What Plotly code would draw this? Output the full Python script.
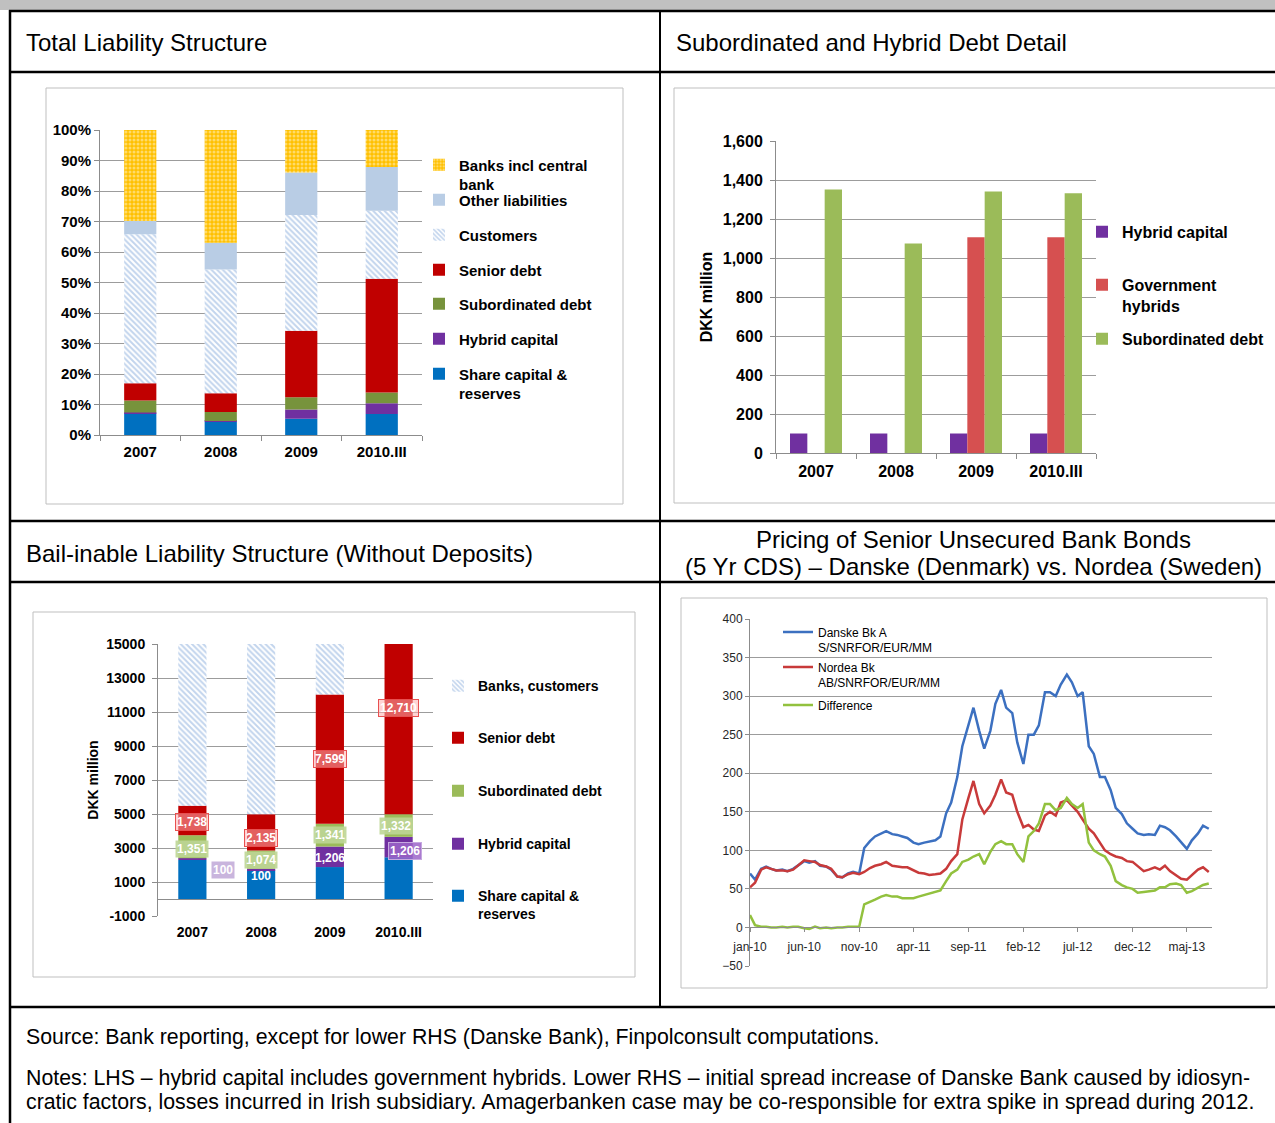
import plotly.graph_objects as go
import pandas as pd

W, H = 1275, 1123


def fx(p):
    return p / W


def fy(p):
    return 1 - p / H


FONT = "Liberation Sans"
GRID = "#9C9C9C"
AXIS = "#8C8C8C"

categories = ["2007", "2008", "2009", "2010.III"]

# ---------------- Chart 1: Total Liability Structure (% of total) ----------------
tl_share_capital = [7.1, 4.4, 5.3, 6.9]
tl_hybrid_capital = [0.3, 0.2, 3.1, 3.5]
tl_subordinated = [3.9, 2.9, 4.0, 3.5]
tl_senior = [5.7, 6.2, 21.8, 37.3]
tl_customers = [48.8, 40.6, 37.9, 22.3]
tl_other = [4.4, 8.7, 14.0, 14.4]
tl_banks = [29.8, 37.0, 13.9, 12.1]

# ---------------- Chart 2: Subordinated and Hybrid Debt Detail (DKK million) ----------------
sh_hybrid_capital = [100, 100, 100, 100]
sh_government_hybrids = [0, 0, 1106, 1106]
sh_subordinated = [1351, 1074, 1341, 1332]

# ---------------- Chart 3: Bail-inable Liability Structure (DKK million) ----------------
bl_share_capital = [2300, 1680, 1880, 2450]
bl_hybrid_capital = [100, 100, 1206, 1206]
bl_subordinated = [1351, 1074, 1341, 1332]
bl_senior = [1738, 2135, 7599, 12710]
bl_banks_customers = [25000, 25000, 25000, 25000]
bl_tickvals = [-1000, 1000, 3000, 5000, 7000, 9000, 11000, 13000, 15000]
bl_ticktext = ["-1000", "1000", "3000", "5000", "7000", "9000", "11000", "13000", "15000"]

# ---------------- Chart 4: 5Y CDS spreads (bp), semi-monthly readings ----------------
cds_dates = pd.date_range("2010-01-01", "2013-07-01", freq="SMS")
cds_danske = [70, 62, 76, 79, 76, 74, 75, 73, 76, 81,
              86, 84, 86, 80, 79, 75, 66, 65, 70, 72,
              70, 103, 112, 118, 122, 125, 121, 120, 118, 116,
              110, 108, 110, 111, 113, 118, 148, 162, 195, 235,
              262, 285, 255, 232, 255, 290, 308, 285, 278, 240,
              212, 250, 250, 262, 305, 305, 300, 315, 328, 318,
              300, 305, 235, 225, 195, 195, 178, 155, 147, 135,
              128, 122, 120, 121, 120, 132, 130, 126, 118, 110,
              102, 113, 122, 132, 128]
cds_nordea = [52, 58, 75, 78, 76, 74, 74, 73, 75, 80,
              87, 86, 85, 81, 79, 76, 66, 65, 69, 71,
              69, 72, 77, 80, 82, 85, 80, 79, 78, 78,
              74, 71, 70, 68, 69, 70, 76, 86, 95, 140,
              168, 190, 160, 148, 158, 172, 192, 175, 172, 150,
              130, 133, 127, 125, 145, 150, 145, 162, 165, 158,
              150, 140, 128, 122, 110, 100, 95, 92, 90, 86,
              85, 80, 73, 75, 78, 75, 80, 73, 68, 63,
              62, 68, 75, 78, 72]
cds_difference = [16, 3, 1, 1, 0, 0, 1, 0, 1, 1,
                  -1, -2, 1, -1, 0, -1, 0, 0, 1, 1,
                  1, 30, 33, 36, 40, 42, 40, 40, 38, 38,
                  38, 40, 42, 44, 46, 48, 60, 70, 75, 85,
                  88, 92, 95, 82, 98, 108, 112, 108, 108, 95,
                  85, 118, 125, 135, 160, 160, 152, 155, 168, 160,
                  155, 160, 110, 100, 95, 92, 80, 60, 55, 52,
                  50, 45, 46, 47, 48, 52, 52, 56, 57, 55,
                  45, 47, 52, 55, 57]
cds_tick_dates = ["2010-01-01", "2010-06-01", "2010-11-01", "2011-04-01", "2011-09-01",
                  "2012-02-01", "2012-07-01", "2012-12-01", "2013-05-01"]
cds_tick_labels = ["jan-10", "jun-10", "nov-10", "apr-11", "sep-11",
                   "feb-12", "jul-12", "dec-12", "maj-13"]

# ---------------- helpers ----------------
fig = go.Figure()
legend_layouts = {}
leg_count = [1]


def bold(size, color="black"):
    return dict(family=FONT, size=size, color=color, weight="bold")


def new_legend(tx, ty, size, weight="bold"):
    leg_count[0] += 1
    key = "legend%d" % leg_count[0]
    legend_layouts[key] = dict(
        x=fx(tx - 40), y=fy(ty - (8 + 0.7 * size)), xanchor="left", yanchor="top",
        bgcolor="rgba(0,0,0,0)", borderwidth=0, valign="top",
        font=dict(family=FONT, size=size, color="black", weight=weight),
        itemclick=False, itemdoubleclick=False)
    return key


def solid(c):
    return dict(color=c, line=dict(width=0))


def hatch(fg, bg="white", shape="\\", size=4, solidity=0.5):
    return dict(color=bg, line=dict(width=0),
                pattern=dict(shape=shape, fgcolor=fg, bgcolor=bg, size=size, solidity=solidity))


def add_stack(series, xa, ya, width, legpos, size):
    base = [0.0] * len(categories)
    for name, vals, marker in series:
        key = new_legend(legpos[name][0], legpos[name][1], size)
        fig.add_trace(go.Bar(x=categories, y=vals, base=list(base), width=width, offset=-width / 2,
                             name=name, marker=marker, xaxis=xa, yaxis=ya, legend=key,
                             hoverinfo="skip"))
        base = [b + v for b, v in zip(base, vals)]


# ---------------- Chart 1 ----------------
c1_leg = {
    "Banks incl central<br>bank": (459, 167),
    "Other liabilities": (459, 202),
    "Customers": (459, 237),
    "Senior debt": (459, 272),
    "Subordinated debt": (459, 306),
    "Hybrid capital": (459, 341),
    "Share capital &<br>reserves": (459, 376),
}
add_stack([
    ("Share capital &<br>reserves", tl_share_capital, solid("#0070C0")),
    ("Hybrid capital", tl_hybrid_capital, solid("#7030A0")),
    ("Subordinated debt", tl_subordinated, solid("#77933C")),
    ("Senior debt", tl_senior, solid("#C00000")),
    ("Customers", tl_customers, hatch("#85AADB")),
    ("Other liabilities", tl_other, solid("#B9CDE5")),
    ("Banks incl central<br>bank", tl_banks, hatch("#FFF5D6", "#FFC000", ".", 4, 0.45)),
], "x", "y", 0.4, c1_leg, 15)

# ---------------- Chart 2 ----------------
c2_series = [
    ("Hybrid capital", sh_hybrid_capital, "#7030A0", (1122, 234)),
    ("Government<br>hybrids", sh_government_hybrids, "#D65050", (1122, 287)),
    ("Subordinated debt", sh_subordinated, "#9BBB59", (1122, 341)),
]
for name, vals, col, pos in c2_series:
    key = new_legend(pos[0], pos[1], 16)
    fig.add_trace(go.Bar(x=categories, y=vals, name=name, marker=solid(col),
                         xaxis="x2", yaxis="y2", legend=key, hoverinfo="skip"))

# ---------------- Chart 3 ----------------
c3_leg = {
    "Banks, customers": (478, 688),
    "Senior debt": (478, 740),
    "Subordinated debt": (478, 793),
    "Hybrid capital": (478, 846),
    "Share capital &<br>reserves": (478, 898),
}
c3_series = [
    ("Share capital &<br>reserves", bl_share_capital, solid("#0070C0")),
    ("Hybrid capital", bl_hybrid_capital, solid("#7030A0")),
    ("Subordinated debt", bl_subordinated, solid("#9BBB59")),
    ("Senior debt", bl_senior, solid("#C00000")),
    ("Banks, customers", bl_banks_customers, hatch("#85AADB")),
]
add_stack(c3_series, "x3", "y3", 0.41, c3_leg, 14)

# data labels for chart 3 (value labels at segment centres)
label_styles = {
    "Hybrid capital": [
        dict(bgcolor="#C9B5DD", bordercolor="rgba(0,0,0,0)", xshift=31, yshift=-11),
        dict(bgcolor="rgba(0,0,0,0)", bordercolor="rgba(0,0,0,0)", xshift=0, yshift=-6),
        dict(bgcolor="rgba(0,0,0,0)", bordercolor="rgba(0,0,0,0)", xshift=0, yshift=-1),
        dict(bgcolor="rgba(155,100,200,0.85)", bordercolor="#C6A8E0", xshift=6, yshift=-4),
    ],
    "Subordinated debt": [
        dict(bgcolor="rgba(190,214,150,0.9)", bordercolor="rgba(0,0,0,0)", xshift=0, yshift=-2),
        dict(bgcolor="rgba(190,214,150,0.9)", bordercolor="rgba(0,0,0,0)", xshift=0, yshift=0),
        dict(bgcolor="rgba(190,214,150,0.9)", bordercolor="rgba(0,0,0,0)", xshift=0, yshift=0),
        dict(bgcolor="rgba(190,214,150,0.9)", bordercolor="rgba(0,0,0,0)", xshift=-3, yshift=0),
    ],
    "Senior debt": [
        dict(bgcolor="rgba(255,175,175,0.55)", bordercolor="#E85050", xshift=0, yshift=-2),
        dict(bgcolor="rgba(255,175,175,0.55)", bordercolor="#E85050", xshift=0, yshift=-6),
        dict(bgcolor="rgba(255,175,175,0.55)", bordercolor="#E85050", xshift=0, yshift=0),
        dict(bgcolor="rgba(255,175,175,0.55)", bordercolor="#E85050", xshift=0, yshift=-2),
    ],
}
annotations = []
base = [0.0] * len(categories)
for name, vals, _m in c3_series:
    if name in label_styles:
        for i in range(len(categories)):
            st = label_styles[name][i]
            annotations.append(dict(
                x=i, y=base[i] + vals[i] / 2, xref="x3", yref="y3",
                text="{:,}".format(vals[i]), showarrow=False,
                font=bold(12, "white"), bgcolor=st["bgcolor"], bordercolor=st["bordercolor"],
                borderwidth=1, borderpad=1, xshift=st["xshift"], yshift=st["yshift"]))
    base = [b + v for b, v in zip(base, vals)]

# ---------------- Chart 4 ----------------
c4_series = [
    ("Danske Bk A<br>S/SNRFOR/EUR/MM", cds_danske, "#3C70C0", (818, 634)),
    ("Nordea Bk<br>AB/SNRFOR/EUR/MM", cds_nordea, "#C83A3A", (818, 669)),
    ("Difference", cds_difference, "#92C13E", (818, 707)),
]
for name, vals, col, pos in c4_series:
    key = new_legend(pos[0], pos[1], 12, "normal")
    fig.add_trace(go.Scatter(x=cds_dates, y=vals, name=name, mode="lines",
                             line=dict(color=col, width=2.5), xaxis="x4", yaxis="y4",
                             legend=key, hoverinfo="skip"))

# ---------------- frame, headers and notes ----------------
shapes = [dict(type="rect", xref="paper", yref="paper", x0=0, x1=1, y0=fy(10), y1=1,
               fillcolor="#C0C0C0", line=dict(width=0), layer="below")]
for (x0, y0, x1, y1) in [(46, 88, 623, 504), (674, 88, 1290, 503), (33, 612, 635, 977), (681, 598, 1267, 988)]:
    shapes.append(dict(type="rect", xref="paper", yref="paper", x0=fx(x0), x1=fx(x1), y0=fy(y1), y1=fy(y0),
                       fillcolor="white", line=dict(color="#BFBFBF", width=1), layer="below"))
for yy in [11, 72, 521, 582, 1007]:
    shapes.append(dict(type="line", xref="paper", yref="paper", x0=fx(9), x1=1, y0=fy(yy), y1=fy(yy),
                       line=dict(color="black", width=2.5)))
shapes.append(dict(type="line", xref="paper", yref="paper", x0=fx(10), x1=fx(10), y0=0, y1=fy(10),
                   line=dict(color="black", width=2.5)))
shapes.append(dict(type="line", xref="paper", yref="paper", x0=fx(660), x1=fx(660), y0=fy(1007), y1=fy(10),
                   line=dict(color="black", width=2)))


def text(s, x, y, size, anchor="left"):
    annotations.append(dict(text=s, x=fx(x), y=fy(y), xref="paper", yref="paper", xanchor=anchor,
                            yanchor="middle", showarrow=False,
                            font=dict(family=FONT, size=size, color="black")))


text("Total Liability Structure", 24, 42, 24)
text("Subordinated and Hybrid Debt Detail", 674, 42, 24)
text("Bail-inable Liability Structure (Without Deposits)", 24, 553, 24)
text("Pricing of Senior Unsecured Bank Bonds", 973, 539, 24, "center")
text("(5 Yr CDS) – Danske (Denmark) vs. Nordea (Sweden)", 973, 566, 24, "center")
text("Source: Bank reporting, except for lower RHS (Danske Bank), Finpolconsult computations.", 24, 1037, 21.3)
text("Notes: LHS – hybrid capital includes government hybrids. Lower RHS – initial spread increase of Danske Bank caused by idiosyn-", 24, 1078, 21.3)
text("cratic factors, losses incurred in Irish subsidiary. Amagerbanken case may be co-responsible for extra spike in spread during 2012.", 24, 1102, 21.3)

# ---------------- axes ----------------
y4_dom = [fy(966), fy(619)]
y4_range = [-50, 400]
x4_pos = y4_dom[0] + (0 - y4_range[0]) / (y4_range[1] - y4_range[0]) * (y4_dom[1] - y4_dom[0])

cat_x = dict(type="category", range=[-0.5, 3.5], showline=True, linecolor=AXIS, ticks="outside",
             tickson="boundaries", ticklen=5, tickcolor=AXIS, showgrid=False, zeroline=False)
val_y = dict(showgrid=True, gridcolor=GRID, showline=True, linecolor=AXIS, ticks="outside",
             ticklen=5, tickcolor=AXIS, zeroline=False)

fig.update_layout(
    width=W, height=H, margin=dict(l=0, r=0, t=0, b=0, autoexpand=False), autosize=False,
    paper_bgcolor="white", plot_bgcolor="rgba(0,0,0,0)",
    barmode="group", bargap=0.35, bargroupgap=0,
    shapes=shapes, annotations=annotations,
    xaxis=dict(domain=[fx(100), fx(422)], anchor="y", tickfont=bold(15), ticklabelstandoff=3, **cat_x),
    yaxis=dict(domain=[fy(435), fy(130)], anchor="x", range=[0, 100], dtick=10, ticksuffix="%",
               tickfont=bold(15), **val_y),
    xaxis2=dict(domain=[fx(776), fx(1096)], anchor="y2", tickfont=bold(16), ticklabelstandoff=4, **cat_x),
    yaxis2=dict(domain=[fy(453), fy(141)], anchor="x2", range=[0, 1600], dtick=200, tickformat=",",
                tickfont=bold(16), ticklabelstandoff=4,
                title=dict(text="DKK million", font=bold(16), standoff=6), **val_y),
    xaxis3=dict(domain=[fx(158), fx(433)], anchor="y3", type="category", range=[-0.5, 3.5],
                showline=False, ticks="", showgrid=False, zeroline=False, tickfont=bold(14),
                ticklabelstandoff=6),
    yaxis3=dict(domain=[fy(916), fy(644)], anchor="x3", range=[-1000, 15000], tickvals=bl_tickvals,
                ticktext=bl_ticktext, tickfont=bold(14), ticklabelstandoff=4, showgrid=True,
                gridcolor=GRID, showline=True,
                linecolor=AXIS, ticks="outside", ticklen=5, tickcolor=AXIS, zeroline=True,
                zerolinecolor=AXIS, zerolinewidth=1,
                title=dict(text="DKK million", font=bold(14), standoff=4)),
    xaxis4=dict(domain=[fx(750), fx(1212)], anchor="free", position=x4_pos, type="date",
                range=["2010-01-01", "2013-07-10"], tickvals=cds_tick_dates, ticktext=cds_tick_labels,
                showline=True, linecolor=AXIS, ticks="outside", ticklen=4, tickcolor=AXIS,
                ticklabelstandoff=4,
                tickfont=dict(family=FONT, size=12, color="#262626"), showgrid=False, zeroline=False),
    yaxis4=dict(domain=y4_dom, anchor="x4", range=y4_range, dtick=50,
                tickfont=dict(family=FONT, size=12, color="#262626"), showgrid=True, gridcolor=GRID,
                showline=True, linecolor=AXIS, ticks="outside", ticklen=4, tickcolor=AXIS, zeroline=False),
    **legend_layouts,
)

fig.write_html("out.html", config={"displayModeBar": False},
               post_script="document.body.style.margin='0';")
